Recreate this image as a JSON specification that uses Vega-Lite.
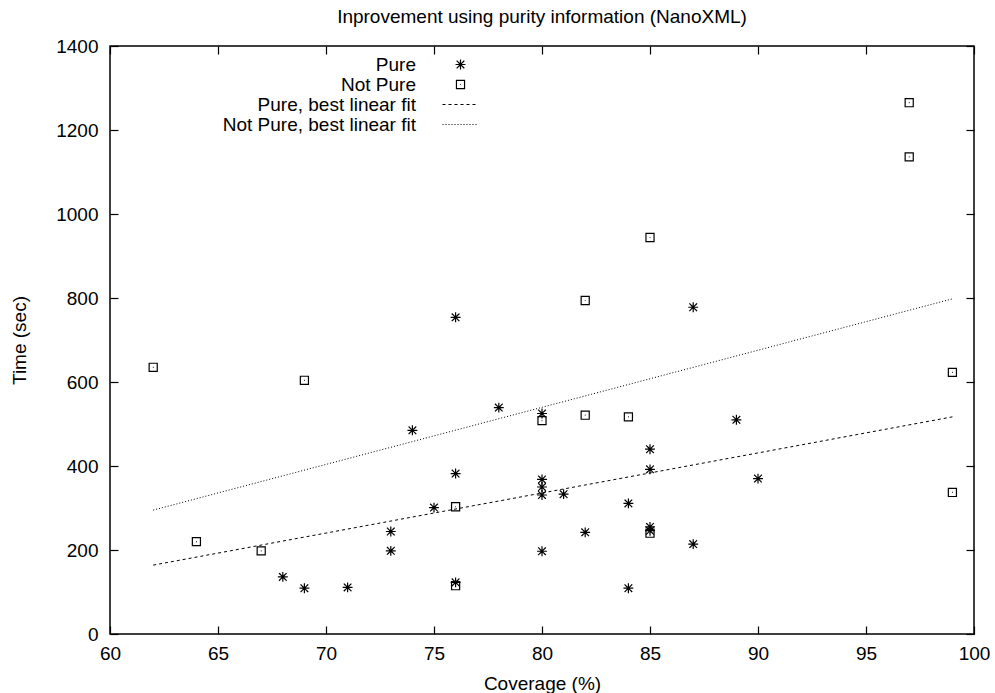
{
  "$schema": "https://vega.github.io/schema/vega-lite/v6.json",
  "width": 864,
  "height": 588,
  "autosize": {"type": "none"},
  "padding": {"left": 110, "top": 46, "right": 21, "bottom": 59},
  "background": "white",
  "title": {
    "text": "Inprovement using purity information (NanoXML)",
    "font": "Liberation Sans",
    "fontSize": 19,
    "fontWeight": "normal",
    "color": "#000",
    "anchor": "middle",
    "frame": "group",
    "offset": 10
  },
  "datasets": {
    "points": [
      {"coverage": 76, "time": 754, "series": "Pure"},
      {"coverage": 78, "time": 539, "series": "Pure"},
      {"coverage": 80, "time": 525, "series": "Pure"},
      {"coverage": 74, "time": 485, "series": "Pure"},
      {"coverage": 76, "time": 382, "series": "Pure"},
      {"coverage": 80, "time": 368, "series": "Pure"},
      {"coverage": 80, "time": 350, "series": "Pure"},
      {"coverage": 80, "time": 331, "series": "Pure"},
      {"coverage": 75, "time": 301, "series": "Pure"},
      {"coverage": 73, "time": 244, "series": "Pure"},
      {"coverage": 73, "time": 198, "series": "Pure"},
      {"coverage": 80, "time": 197, "series": "Pure"},
      {"coverage": 68, "time": 136, "series": "Pure"},
      {"coverage": 69, "time": 109, "series": "Pure"},
      {"coverage": 71, "time": 111, "series": "Pure"},
      {"coverage": 76, "time": 123, "series": "Pure"},
      {"coverage": 87, "time": 778, "series": "Pure"},
      {"coverage": 89, "time": 510, "series": "Pure"},
      {"coverage": 85, "time": 440, "series": "Pure"},
      {"coverage": 85, "time": 392, "series": "Pure"},
      {"coverage": 90, "time": 370, "series": "Pure"},
      {"coverage": 81, "time": 333, "series": "Pure"},
      {"coverage": 84, "time": 311, "series": "Pure"},
      {"coverage": 82, "time": 242, "series": "Pure"},
      {"coverage": 85, "time": 255, "series": "Pure"},
      {"coverage": 85, "time": 246, "series": "Pure"},
      {"coverage": 87, "time": 214, "series": "Pure"},
      {"coverage": 84, "time": 109, "series": "Pure"},
      {"coverage": 62, "time": 635, "series": "Not Pure"},
      {"coverage": 69, "time": 604, "series": "Not Pure"},
      {"coverage": 80, "time": 508, "series": "Not Pure"},
      {"coverage": 76, "time": 303, "series": "Not Pure"},
      {"coverage": 64, "time": 220, "series": "Not Pure"},
      {"coverage": 67, "time": 198, "series": "Not Pure"},
      {"coverage": 76, "time": 115, "series": "Not Pure"},
      {"coverage": 85, "time": 944, "series": "Not Pure"},
      {"coverage": 82, "time": 794, "series": "Not Pure"},
      {"coverage": 99, "time": 623, "series": "Not Pure"},
      {"coverage": 82, "time": 521, "series": "Not Pure"},
      {"coverage": 84, "time": 517, "series": "Not Pure"},
      {"coverage": 99, "time": 337, "series": "Not Pure"},
      {"coverage": 85, "time": 240, "series": "Not Pure"},
      {"coverage": 97, "time": 1265, "series": "Not Pure"},
      {"coverage": 97, "time": 1136, "series": "Not Pure"}
    ],
    "fits": [
      {"coverage": 62, "time": 164, "series": "Pure, best linear fit"},
      {"coverage": 99, "time": 517, "series": "Pure, best linear fit"},
      {"coverage": 62, "time": 295, "series": "Not Pure, best linear fit"},
      {"coverage": 99, "time": 798, "series": "Not Pure, best linear fit"}
    ]
  },
  "layer": [
    {
      "data": {"name": "points"},
      "mark": {"type": "point", "filled": false, "stroke": "#000", "strokeWidth": 1.2, "size": 81, "opacity": 1},
      "encoding": {
        "x": {
          "field": "coverage", "type": "quantitative",
          "scale": {"domain": [60, 100], "nice": false, "zero": false},
          "axis": {
            "orient": "bottom",
            "values": [60, 65, 70, 75, 80, 85, 90, 95, 100],
            "format": "d",
            "labelFlush": false,
            "title": "Coverage (%)",
            "titleX": 432, "titleY": 49,
            "titleAlign": "center", "titleBaseline": "middle",
            "labelPadding": 18
          }
        },
        "y": {
          "field": "time", "type": "quantitative",
          "scale": {"domain": [0, 1400], "nice": false, "zero": true},
          "axis": {
            "orient": "left",
            "values": [0, 200, 400, 600, 800, 1000, 1200, 1400],
            "format": "d",
            "labelFlush": false,
            "title": "Time (sec)",
            "titleX": -91, "titleY": 294,
            "titleAngle": -90,
            "titleAlign": "center", "titleBaseline": "middle",
            "labelPadding": 20
          }
        },
        "shape": {
          "field": "series", "type": "nominal",
          "scale": {
            "domain": ["Pure", "Not Pure", "Pure, best linear fit", "Not Pure, best linear fit"],
            "range": [
              "M-1.1,0L1.1,0M0,-1.1L0,1.1M-0.85,-0.85L0.85,0.85M-0.85,0.85L0.85,-0.85",
              "M-0.9,-0.9L0.9,-0.9L0.9,0.9L-0.9,0.9ZM-0.08,0L0.08,0",
              "M-4,0L4,0",
              "M-4,0L4,0"
            ]
          },
          "legend": {"title": null}
        },
        "strokeDash": {
          "field": "series", "type": "nominal",
          "scale": {
            "domain": ["Pure", "Not Pure", "Pure, best linear fit", "Not Pure, best linear fit"],
            "range": [[1, 0], [1, 0], [3, 3], [1, 2]]
          },
          "legend": {"title": null}
        }
      }
    },
    {
      "data": {"name": "fits"},
      "mark": {"type": "line", "stroke": "#000", "strokeWidth": 1},
      "encoding": {
        "x": {
          "field": "coverage", "type": "quantitative",
          "scale": {"domain": [60, 100], "nice": false, "zero": false},
          "axis": {"orient": "top", "values": [60, 65, 70, 75, 80, 85, 90, 95, 100], "labels": false, "title": null}
        },
        "y": {
          "field": "time", "type": "quantitative",
          "scale": {"domain": [0, 1400], "nice": false, "zero": true},
          "axis": {"orient": "right", "values": [0, 200, 400, 600, 800, 1000, 1200, 1400], "labels": false, "title": null}
        },
        "strokeDash": {
          "field": "series", "type": "nominal",
          "scale": {
            "domain": ["Pure", "Not Pure", "Pure, best linear fit", "Not Pure, best linear fit"],
            "range": [[1, 0], [1, 0], [3, 3], [1, 2]]
          },
          "legend": {"title": null}
        }
      }
    }
  ],
  "resolve": {"axis": {"x": "independent", "y": "independent"}},
  "config": {
    "view": {"stroke": "#000", "strokeWidth": 1.5},
    "axis": {
      "domain": false,
      "grid": false,
      "ticks": true,
      "tickSize": -8,
      "tickColor": "#000",
      "tickWidth": 1.2,
      "labelFont": "Liberation Sans",
      "labelFontSize": 19,
      "labelColor": "#000",
      "titleFont": "Liberation Sans",
      "titleFontSize": 19,
      "titleFontWeight": "normal",
      "titleColor": "#000"
    },
    "legend": {
      "orient": "none",
      "legendX": 0,
      "legendY": 9,
      "padding": 0,
      "labelFont": "Liberation Sans",
      "labelFontSize": 19,
      "labelColor": "#000",
      "labelAlign": "right",
      "labelLimit": 400,
      "labelOffset": -54,
      "symbolOffset": 341,
      "symbolStrokeColor": "#000",
      "symbolStrokeWidth": 1.2,
      "symbolSize": 81,
      "symbolFillColor": "transparent",
      "rowPadding": -0.6
    }
  }
}
